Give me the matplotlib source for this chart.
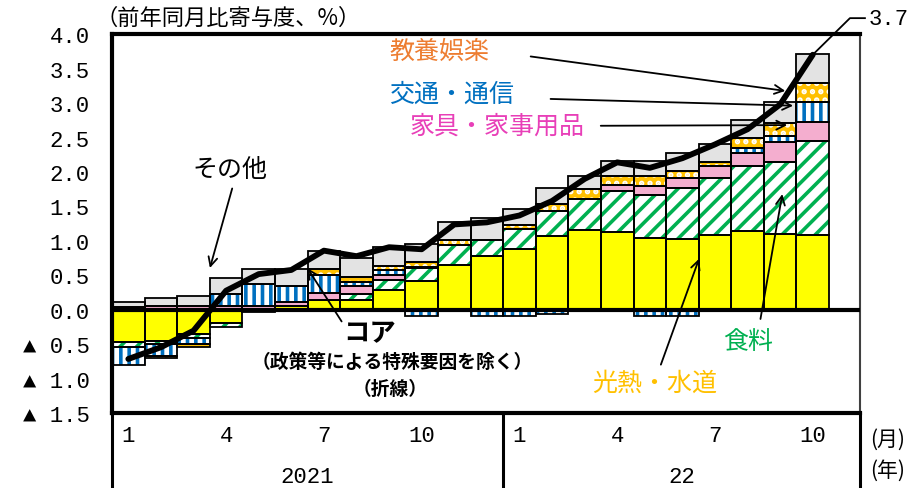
import numpy as np
import matplotlib
matplotlib.use("Agg")
import matplotlib.pyplot as plt

plt.rcParams['font.family'] = ['Noto Sans CJK JP', 'DejaVu Sans']
plt.rcParams['hatch.linewidth'] = 2.6

# 数字は等幅フォントで
num_font = ['Liberation Mono', 'Noto Sans CJK JP', 'DejaVu Sans']

# 2021年1月～2022年10月（前年同月比寄与度、%）
months = np.arange(1, 23)

kounetsu = [-0.47, -0.45, -0.35, -0.19, 0.00, 0.06, 0.15, 0.15, 0.29, 0.42, 0.65,
            0.78, 0.88, 1.07, 1.16, 1.13, 1.04, 1.03, 1.08, 1.15, 1.10, 1.09]
shokuryo = [-0.06, -0.04, -0.05, -0.05, -0.03, 0.00, 0.00, 0.08, 0.15, 0.19, 0.29,
            0.24, 0.30, 0.36, 0.45, 0.59, 0.62, 0.74, 0.84, 0.93, 1.05, 1.36]
kagu = [0.05, 0.06, 0.06, 0.06, 0.06, 0.06, 0.10, 0.12, 0.07, 0.02, 0.00,
        0.00, 0.00, 0.00, 0.00, 0.09, 0.13, 0.15, 0.16, 0.19, 0.28, 0.28]
tsuushin = [-0.27, -0.17, -0.09, 0.17, 0.32, 0.23, 0.26, 0.05, 0.07, -0.09, 0.00,
            -0.09, -0.08, -0.06, 0.00, 0.00, -0.08, -0.08, 0.00, 0.08, 0.09, 0.29]
kyouyou = [0.00, -0.04, -0.05, 0.00, 0.00, 0.00, 0.09, 0.08, 0.06, 0.07, 0.07,
           0.00, 0.05, 0.11, 0.14, 0.13, 0.15, 0.10, 0.07, 0.14, 0.19, 0.27]
sonota = [0.06, 0.11, 0.14, 0.24, 0.21, 0.25, 0.25, 0.27, 0.28, 0.25, 0.27,
          0.32, 0.23, 0.23, 0.19, 0.22, 0.22, 0.25, 0.26, 0.27, 0.30, 0.42]
core = [-0.71, -0.54, -0.30, 0.28, 0.52, 0.58, 0.86, 0.78, 0.91, 0.88, 1.24,
        1.27, 1.37, 1.58, 1.90, 2.14, 2.06, 2.20, 2.40, 2.62, 2.98, 3.70]

yticks = [4.0, 3.5, 3.0, 2.5, 2.0, 1.5, 1.0, 0.5, 0.0, -0.5, -1.0, -1.5]
ytick_labels = ['4.0', '3.5', '3.0', '2.5', '2.0', '1.5', '1.0', '0.5', '0.0',
                '▲ 0.5', '▲ 1.0', '▲ 1.5']
month_ticks = [1, 4, 7, 10, 13, 16, 19, 22]
month_labels = ['1', '4', '7', '10', '1', '4', '7', '10']
years = ['2021', '22']

fig = plt.figure(figsize=(9.13, 4.89), dpi=100)
ax = fig.add_axes([0.1227, 0.1524, 0.8193, 0.776])

# 積み上げ順：光熱・水道、食料、家具、交通・通信、教養娯楽、その他
series = [
    (kounetsu, '#FFFF00', '#FFFF00', None),
    (shokuryo, 'white', '#00B050', '//'),
    (kagu, '#F4AECF', '#F4AECF', None),
    (tsuushin, 'white', '#0070C0', '||'),
    (kyouyou, '#FFC000', 'white', '..'),
    (sonota, '#E3E3E3', '#E3E3E3', None),
]

pos_bottom = np.zeros(len(months))
neg_bottom = np.zeros(len(months))
for vals, face, hcol, hatch in series:
    v = np.array(vals)
    bottom = np.where(v >= 0, pos_bottom, neg_bottom)
    m = v != 0
    ax.bar(months[m], v[m], width=1.0, bottom=bottom[m], color=face,
           edgecolor=hcol, hatch=hatch, linewidth=0, zorder=2)
    ax.bar(months[m], v[m], width=1.0, bottom=bottom[m], fill=False,
           edgecolor='black', linewidth=1.3, zorder=3)
    pos_bottom += np.where(v > 0, v, 0)
    neg_bottom += np.where(v < 0, v, 0)

ax.axhline(0, color='black', lw=3, zorder=4)
ax.plot(months, core, color='black', lw=4.2, zorder=6, solid_capstyle='round')

ax.set_xlim(0.5, 23.45)
ax.set_ylim(-1.5, 4.0)
ax.set_yticks(yticks)
ax.set_yticklabels(ytick_labels, fontsize=16, family=num_font)
ax.set_xticks(month_ticks)
ax.set_xticklabels(month_labels, fontsize=16, family=num_font)
ax.tick_params(axis='both', length=0)
ax.tick_params(axis='y', pad=16)
ax.tick_params(axis='x', pad=8)

for side in ['top', 'left', 'bottom']:
    ax.spines[side].set_linewidth(3)
ax.spines['right'].set_linewidth(1.5)
ax.spines['right'].set_color('#404040')

# 年の区切り線
xt = ax.get_xaxis_transform()
for xv in [0.5, 12.5, 23.45]:
    ax.plot([xv, xv], [0, -0.21], color='black', lw=2.2, transform=xt,
            clip_on=False)
ax.text(6.5, -0.165, years[0], transform=xt, ha='center', va='center',
        fontsize=16, family=num_font)
ax.text(17.97, -0.165, years[1], transform=xt, ha='center', va='center',
        fontsize=16, family=num_font)
fig.text(0.953, 1 - 440 / 489, '(月)', ha='left', va='center', fontsize=15)
fig.text(0.953, 1 - 471 / 489, '(年)', ha='left', va='center', fontsize=15)
fig.text(0.105, 1 - 18 / 489, '（前年同月比寄与度、%）', ha='left', va='center',
         fontsize=16)

# 系列ラベルと矢印
arrow = dict(arrowstyle='->', color='black', lw=1.3, mutation_scale=16)
ax.annotate('', xy=(21.24, 3.17), xytext=(13.26, 3.68), arrowprops=arrow, zorder=7)
ax.annotate('', xy=(21.48, 2.96), xytext=(13.87, 3.06), arrowprops=arrow, zorder=7)
ax.annotate('', xy=(21.30, 2.68), xytext=(15.41, 2.67), arrowprops=arrow, zorder=7)
ax.annotate('', xy=(3.48, 0.57), xytext=(4.21, 1.80), arrowprops=arrow, zorder=7)
ax.annotate('', xy=(6.45, 0.64), xytext=(7.59, -0.20), arrowprops=arrow, zorder=7)
ax.annotate('', xy=(18.54, 0.78), xytext=(17.31, -0.83), arrowprops=arrow, zorder=7)
ax.annotate('', xy=(21.08, 1.72), xytext=(20.38, -0.17), arrowprops=arrow, zorder=7)

ax.text(10.56, 3.75, '教養娯楽', color='#ED7D31', fontsize=18, ha='center', va='center')
ax.text(10.93, 3.13, '交通・通信', color='#0070C0', fontsize=18, ha='center', va='center')
ax.text(12.31, 2.67, '家具・家事用品', color='#E83FB8', fontsize=18, ha='center', va='center')
ax.text(4.12, 2.04, 'その他', color='black', fontsize=18, ha='center', va='center')
ax.text(8.41, -0.33, 'コア', color='black', fontsize=19, fontweight='bold',
        ha='center', va='center')
ax.text(9.09, -0.74, '（政策等による特殊要因を除く）', color='black', fontsize=13.5,
        fontweight='bold', ha='center', va='center')
ax.text(9.03, -1.14, '（折線）', color='black', fontsize=13.5, fontweight='bold',
        ha='center', va='center')
ax.text(17.16, -1.06, '光熱・水道', color='#FFC000', fontsize=18, ha='center', va='center')
ax.text(20.0, -0.45, '食料', color='#00B050', fontsize=18, ha='center', va='center')

# 直近値
ax.plot([months[-1], 23.14, 23.6], [core[-1], 4.23, 4.23], color='black', lw=1.3,
        clip_on=False, zorder=7)
ax.text(23.7, 4.23, f'{core[-1]:.1f}', fontsize=16, ha='left', va='center',
        family=num_font)

fig.savefig('out.png', dpi=100)
